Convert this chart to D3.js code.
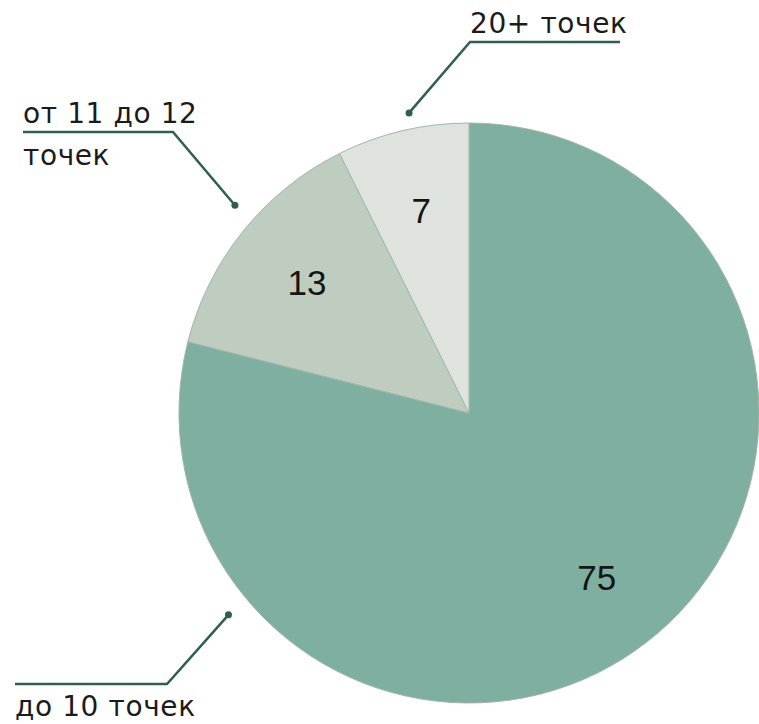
<!DOCTYPE html>
<html>
<head>
<meta charset="utf-8">
<script src="https://cdn.jsdelivr.net/npm/d3@7"></script>
<style>
  html, body { margin: 0; padding: 0; background: #fff; }
  #graf { width: 759px; height: 724px; }
  .etiqueta { font-family: "DejaVu Sans", sans-serif; font-size: 28px; font-weight: 400; fill: #1b1b1b; letter-spacing: 0.6px; }
  .valor { font-family: "Liberation Sans Narrow", "Liberation Sans", sans-serif; font-size: 35px; fill: #151515; }
</style>
</head>
<body>
<div id="graf"></div>
<script>
// datos
const categorias = ["до 10 точек", "от 11 до 12 точек", "20+ точек"];
const valores = [75, 13, 7];
const colores = ["#7eafa1", "#bfcdc1", "#dee3dd"];

const ancho_total = 759;
const alto_total = 724;
const radio = 290;
const cx = 469, cy = 413;

const svg = d3
  .select("#graf")
  .append("svg")
  .attr("width", ancho_total)
  .attr("height", alto_total);

const g = svg.append("g").attr("transform", `translate(${cx}, ${cy})`);

const pie = d3.pie().sort(null).value((d) => d);
const arcos = pie(valores);

const arco = d3.arc().innerRadius(0).outerRadius(radio);
const arcoTexto = d3.arc().innerRadius(208).outerRadius(208);

g.selectAll("path")
  .data(arcos)
  .enter()
  .append("path")
  .attr("d", arco)
  .attr("fill", (d, i) => colores[i])
  .attr("stroke", "#a3b5aa")
  .attr("stroke-width", 1);

g.selectAll(".valor")
  .data(arcos)
  .enter()
  .append("text")
  .attr("class", "valor")
  .attr("text-anchor", "middle")
  .attr("dominant-baseline", "central")
  .attr("transform", (d) => `translate(${arcoTexto.centroid(d)})`)
  .text((d) => d.data);

// anotaciones: angulo del punto (grados), radio, codo y texto
const anotaciones = [
  { ang: 230, r: 314, codo: [167, 684], fin: 15, lineas: [categorias[0]], tx: 15, ty: 716 },
  { ang: 311.6, r: 313, codo: [173, 132], fin: 23, lineas: ["от 11 до 12", "точек"], tx: 23, ty: 123 },
  { ang: 348.7, r: 306, codo: [470, 42], fin: 620, lineas: [categorias[2]], tx: 470, ty: 33 },
];

const polar = (a, r) => [cx + r * Math.sin((a * Math.PI) / 180), cy - r * Math.cos((a * Math.PI) / 180)];

anotaciones.forEach((a) => {
  const p = polar(a.ang, a.r);
  svg
    .append("path")
    .attr("d", d3.line()([p, a.codo, [a.fin, a.codo[1]]]))
    .attr("fill", "none")
    .attr("stroke", "#2e5f51")
    .attr("stroke-width", 2.5);
  svg.append("circle").attr("cx", p[0]).attr("cy", p[1]).attr("r", 3.5).attr("fill", "#2e5f51");
  const t = svg.append("text").attr("class", "etiqueta").attr("x", a.tx).attr("y", a.ty);
  a.lineas.forEach((l, k) => {
    t.append("tspan").attr("x", a.tx).attr("dy", k === 0 ? 0 : 42).text(l);
  });
});
</script>
</body>
</html>
